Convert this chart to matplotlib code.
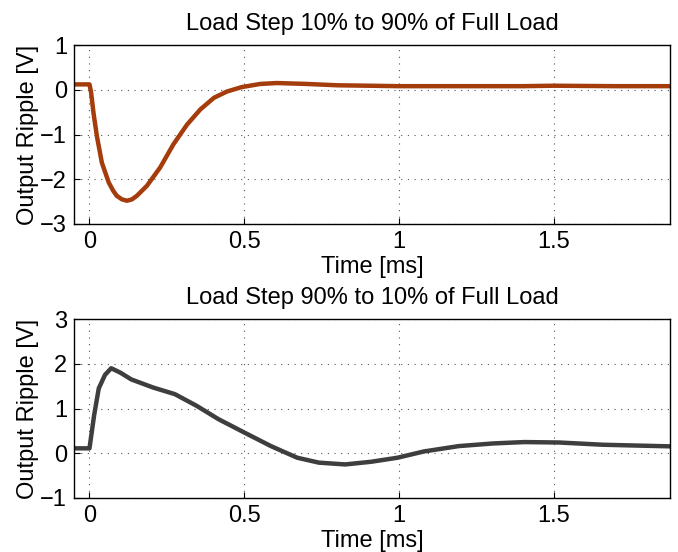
import matplotlib
matplotlib.use('Agg')
import matplotlib.pyplot as plt
import numpy as np

plt.rcParams['font.family'] = ['Liberation Sans', 'DejaVu Sans']

# load step 10% -> 90%  (time in ms, ripple in V)
t_up = [-0.05, -0.02, 0.0, 0.005, 0.013, 0.024, 0.040, 0.062, 0.076, 0.088, 0.105, 0.121,
        0.137, 0.153, 0.185, 0.228, 0.271, 0.315, 0.358, 0.402, 0.444, 0.492,
        0.552, 0.605, 0.70, 0.80, 0.90, 1.0, 1.2, 1.4, 1.5, 1.7, 1.9]
v_up = [0.12, 0.12, 0.12, -0.05, -0.52, -1.04, -1.63, -2.07, -2.25, -2.37, -2.45, -2.48,
        -2.45, -2.37, -2.15, -1.74, -1.22, -0.78, -0.44, -0.18, -0.04, 0.06,
        0.13, 0.15, 0.13, 0.10, 0.09, 0.08, 0.08, 0.08, 0.09, 0.08, 0.08]

# load step 90% -> 10%
t_dn = [-0.05, -0.02, 0.0, 0.015, 0.03, 0.05, 0.07, 0.10, 0.135, 0.205, 0.276,
        0.346, 0.417, 0.501, 0.586, 0.671, 0.741, 0.826, 0.91, 0.995, 1.08,
        1.193, 1.306, 1.405, 1.518, 1.658, 1.9]
v_dn = [0.11, 0.11, 0.11, 0.85, 1.45, 1.75, 1.90, 1.80, 1.65, 1.47, 1.32,
        1.06, 0.76, 0.46, 0.16, -0.10, -0.21, -0.25, -0.19, -0.10, 0.04,
        0.16, 0.22, 0.25, 0.24, 0.19, 0.15]

fig = plt.figure(figsize=(6.78, 5.52), dpi=100)
ax1 = fig.add_axes([74/678, 1-224/552, 596/678, 179/552])
ax2 = fig.add_axes([74/678, 1-498/552, 596/678, 179/552])

panels = [
    (ax1, t_up, v_up, '#A43C0C', (-3, 1), 'Load Step 10% to 90% of Full Load'),
    (ax2, t_dn, v_dn, '#3E3E3E', (-1, 3), 'Load Step 90% to 10% of Full Load'),
]

fs = 17
for ax, t, v, col, yl, title in panels:
    ax.plot(t, v, color=col, lw=3.2, solid_joinstyle='round')
    ax.set_xlim(-0.05, 1.875)
    ax.set_ylim(*yl)
    ax.set_xticks([0, 0.5, 1, 1.5])
    ax.set_xticklabels(['0', '0.5', '1', '1.5'])
    ax.set_yticks(range(yl[0], yl[1] + 1))
    ax.set_yticklabels([str(k).replace('-', '\u2212') for k in range(yl[0], yl[1] + 1)])
    ax.grid(True, linestyle=(0, (1, 5)), color='#555555', lw=0.8)
    ax.tick_params(direction='in', length=4, width=0.8, labelsize=fs, pad=5)
    for s in ax.spines.values():
        s.set_linewidth(1.0)
    ax.set_xlabel('Time [ms]', fontsize=fs, labelpad=2)
    ax.set_ylabel('Output Ripple [V]', fontsize=fs, labelpad=1)
    ax.set_title(title, fontsize=fs, pad=11)

fig.savefig('out.png', dpi=100)
